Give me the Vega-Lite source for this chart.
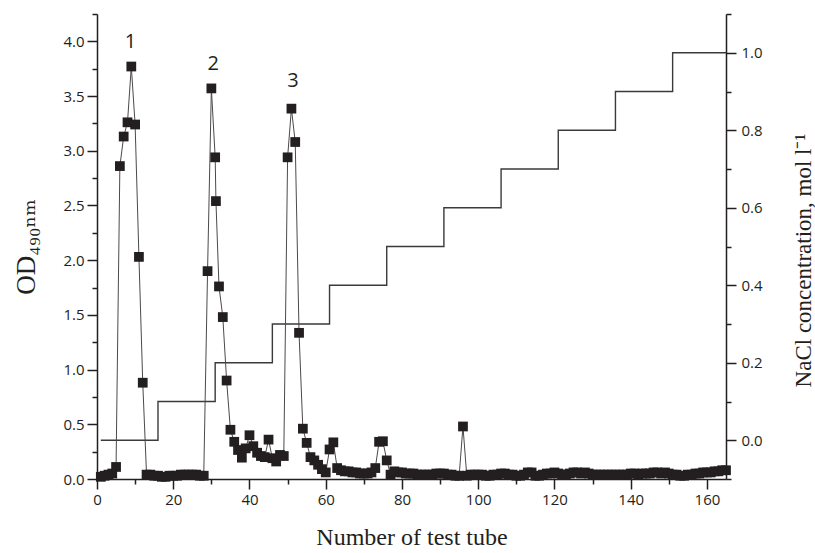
{
  "$schema": "https://vega.github.io/schema/vega-lite/v6.json",
  "width": 629,
  "height": 465,
  "autosize": {"type": "none"},
  "padding": {"left": 97, "top": 14, "right": 89, "bottom": 74},
  "background": "white",
  "config": {
    "view": {"stroke": null},
    "axis": {
      "grid": false,
      "domainColor": "#231f20",
      "domainWidth": 1.5,
      "tickColor": "#231f20",
      "tickWidth": 1.5,
      "tickSize": 10,
      "labelColor": "#231f20",
      "labelFont": "Open Sans",
      "labelFontSize": 15,
      "labelOverlap": false,
      "labelFlush": false,
      "labelBound": false,
      "titleFont": "Liberation Serif",
      "titleFontSize": 24,
      "titleFontWeight": "normal",
      "titleColor": "#231f20"
    }
  },
  "datasets": {
    "nacl": [
      {"tube": 1, "nacl": 0.0}, {"tube": 16, "nacl": 0.1}, {"tube": 31, "nacl": 0.2},
      {"tube": 46, "nacl": 0.3}, {"tube": 61, "nacl": 0.4}, {"tube": 76, "nacl": 0.5},
      {"tube": 91, "nacl": 0.6}, {"tube": 106, "nacl": 0.7}, {"tube": 121, "nacl": 0.8},
      {"tube": 136, "nacl": 0.9}, {"tube": 151, "nacl": 1.0}, {"tube": 165, "nacl": 1.0}
    ],
    "peaks": [
      {"tube": 8.8, "od": 3.99, "label": "1"},
      {"tube": 30.5, "od": 3.79, "label": "2"},
      {"tube": 51.4, "od": 3.64, "label": "3"}
    ],
    "od": [
      {"tube": 1, "od": 0.02}, {"tube": 2, "od": 0.03}, {"tube": 3, "od": 0.04}, {"tube": 4, "od": 0.05},
      {"tube": 5, "od": 0.11}, {"tube": 6, "od": 2.86}, {"tube": 7, "od": 3.13}, {"tube": 8, "od": 3.26},
      {"tube": 9, "od": 3.77}, {"tube": 10, "od": 3.24}, {"tube": 11, "od": 2.03}, {"tube": 12, "od": 0.88},
      {"tube": 13, "od": 0.04}, {"tube": 14, "od": 0.04}, {"tube": 15, "od": 0.03}, {"tube": 16, "od": 0.03},
      {"tube": 17, "od": 0.02}, {"tube": 18, "od": 0.02}, {"tube": 19, "od": 0.03}, {"tube": 20, "od": 0.03},
      {"tube": 21, "od": 0.03}, {"tube": 22, "od": 0.04}, {"tube": 23, "od": 0.04}, {"tube": 24, "od": 0.04},
      {"tube": 25, "od": 0.04}, {"tube": 26, "od": 0.04}, {"tube": 27, "od": 0.03}, {"tube": 28, "od": 0.03},
      {"tube": 29, "od": 1.9}, {"tube": 30, "od": 3.57}, {"tube": 31, "od": 2.94}, {"tube": 31.2, "od": 2.54},
      {"tube": 32, "od": 1.76}, {"tube": 33, "od": 1.48}, {"tube": 34, "od": 0.9}, {"tube": 35, "od": 0.45},
      {"tube": 36, "od": 0.34}, {"tube": 37, "od": 0.265}, {"tube": 38, "od": 0.195}, {"tube": 39, "od": 0.28},
      {"tube": 40, "od": 0.4}, {"tube": 41, "od": 0.3}, {"tube": 42, "od": 0.24}, {"tube": 43, "od": 0.21},
      {"tube": 44, "od": 0.2}, {"tube": 45, "od": 0.36}, {"tube": 46, "od": 0.19}, {"tube": 47, "od": 0.16},
      {"tube": 48, "od": 0.22}, {"tube": 49, "od": 0.21}, {"tube": 50, "od": 2.94}, {"tube": 51, "od": 3.385},
      {"tube": 52, "od": 3.08}, {"tube": 53, "od": 1.336}, {"tube": 54, "od": 0.46}, {"tube": 55, "od": 0.33},
      {"tube": 56, "od": 0.2}, {"tube": 57, "od": 0.17}, {"tube": 58, "od": 0.13}, {"tube": 59, "od": 0.09},
      {"tube": 60, "od": 0.06}, {"tube": 61, "od": 0.27}, {"tube": 62, "od": 0.335}, {"tube": 63, "od": 0.1},
      {"tube": 64, "od": 0.08}, {"tube": 65, "od": 0.07}, {"tube": 66, "od": 0.07}, {"tube": 67, "od": 0.06},
      {"tube": 68, "od": 0.06}, {"tube": 69, "od": 0.05}, {"tube": 70, "od": 0.05}, {"tube": 71, "od": 0.05},
      {"tube": 72, "od": 0.06}, {"tube": 73, "od": 0.1}, {"tube": 74, "od": 0.34}, {"tube": 75, "od": 0.345},
      {"tube": 76, "od": 0.17}, {"tube": 77, "od": 0.04}, {"tube": 78, "od": 0.07}, {"tube": 79, "od": 0.06},
      {"tube": 80, "od": 0.06}, {"tube": 81, "od": 0.05}, {"tube": 82, "od": 0.05}, {"tube": 83, "od": 0.05},
      {"tube": 84, "od": 0.04}, {"tube": 85, "od": 0.04}, {"tube": 86, "od": 0.04}, {"tube": 87, "od": 0.04},
      {"tube": 88, "od": 0.04}, {"tube": 89, "od": 0.05}, {"tube": 90, "od": 0.05}, {"tube": 91, "od": 0.05},
      {"tube": 92, "od": 0.04}, {"tube": 93, "od": 0.04}, {"tube": 94, "od": 0.03}, {"tube": 95, "od": 0.03},
      {"tube": 96, "od": 0.48}, {"tube": 97, "od": 0.03}, {"tube": 98, "od": 0.04}, {"tube": 99, "od": 0.04},
      {"tube": 100, "od": 0.04}, {"tube": 101, "od": 0.04}, {"tube": 102, "od": 0.03}, {"tube": 103, "od": 0.03},
      {"tube": 104, "od": 0.04}, {"tube": 105, "od": 0.04}, {"tube": 106, "od": 0.05}, {"tube": 107, "od": 0.05},
      {"tube": 108, "od": 0.04}, {"tube": 109, "od": 0.04}, {"tube": 110, "od": 0.03}, {"tube": 111, "od": 0.03},
      {"tube": 112, "od": 0.04}, {"tube": 113, "od": 0.06}, {"tube": 114, "od": 0.06}, {"tube": 115, "od": 0.03},
      {"tube": 116, "od": 0.03}, {"tube": 117, "od": 0.04}, {"tube": 118, "od": 0.05}, {"tube": 119, "od": 0.05},
      {"tube": 120, "od": 0.06}, {"tube": 121, "od": 0.05}, {"tube": 122, "od": 0.04}, {"tube": 123, "od": 0.04},
      {"tube": 124, "od": 0.05}, {"tube": 125, "od": 0.06}, {"tube": 126, "od": 0.06}, {"tube": 127, "od": 0.05},
      {"tube": 128, "od": 0.06}, {"tube": 129, "od": 0.05}, {"tube": 130, "od": 0.04}, {"tube": 131, "od": 0.04},
      {"tube": 132, "od": 0.04}, {"tube": 133, "od": 0.04}, {"tube": 134, "od": 0.04}, {"tube": 135, "od": 0.04},
      {"tube": 136, "od": 0.04}, {"tube": 137, "od": 0.04}, {"tube": 138, "od": 0.04}, {"tube": 139, "od": 0.04},
      {"tube": 140, "od": 0.05}, {"tube": 141, "od": 0.05}, {"tube": 142, "od": 0.04}, {"tube": 143, "od": 0.05},
      {"tube": 144, "od": 0.05}, {"tube": 145, "od": 0.05}, {"tube": 146, "od": 0.06}, {"tube": 147, "od": 0.06},
      {"tube": 148, "od": 0.05}, {"tube": 149, "od": 0.06}, {"tube": 150, "od": 0.05}, {"tube": 151, "od": 0.04},
      {"tube": 152, "od": 0.04}, {"tube": 153, "od": 0.03}, {"tube": 154, "od": 0.03}, {"tube": 155, "od": 0.04},
      {"tube": 156, "od": 0.04}, {"tube": 157, "od": 0.05}, {"tube": 158, "od": 0.05}, {"tube": 159, "od": 0.06},
      {"tube": 160, "od": 0.06}, {"tube": 161, "od": 0.06}, {"tube": 162, "od": 0.07}, {"tube": 163, "od": 0.07},
      {"tube": 164, "od": 0.08}, {"tube": 165, "od": 0.08}
    ]
  },
  "layer": [
    {
      "data": {"name": "nacl"},
      "mark": {"type": "line", "interpolate": "step-after", "stroke": "#3a3a3a", "strokeWidth": 1.4},
      "encoding": {
        "x": {
          "field": "tube", "type": "quantitative",
          "scale": {"domain": [0, 165], "nice": false, "zero": false},
          "axis": {
            "orient": "bottom",
            "values": [0, 10, 20, 30, 40, 50, 60, 70, 80, 90, 100, 110, 120, 130, 140, 150, 160],
            "tickDash": {"condition": {"test": "datum.value % 20 === 0", "value": []}, "value": [5, 20]},
            "labelExpr": "datum.value % 20 === 0 ? datum.label : ''",
            "labelPadding": 3,
            "title": "Number of test tube",
            "titlePadding": 18
          }
        },
        "y": {
          "field": "nacl", "type": "quantitative",
          "scale": {"domain": [-0.1, 1.1], "nice": false, "zero": false},
          "axis": {
            "orient": "right",
            "values": [-0.1, 0, 0.1, 0.2, 0.3, 0.4, 0.5, 0.6, 0.7, 0.8, 0.9, 1.0, 1.1],
            "format": ".1f",
            "tickDash": {"condition": {"test": "abs(round(datum.value*10)) % 2 === 0", "value": []}, "value": [5, 20]},
            "labelExpr": "abs(round(datum.value*10)) % 2 === 0 ? datum.label : ''",
            "labelPadding": 5,
            "title": "NaCl concentration, mol l⁻¹",
            "titleFontSize": 23,
            "titleAngle": -90,
            "titleBaseline": "top",
            "titleY": 246,
            "titlePadding": 30
          }
        }
      }
    },
    {
      "encoding": {
        "x": {
          "field": "tube", "type": "quantitative",
          "scale": {"domain": [0, 165], "nice": false, "zero": false},
          "axis": {
            "orient": "bottom",
            "values": [0, 10, 20, 30, 40, 50, 60, 70, 80, 90, 100, 110, 120, 130, 140, 150, 160],
            "tickDash": {"condition": {"test": "datum.value % 20 === 0", "value": []}, "value": [5, 20]},
            "labelExpr": "datum.value % 20 === 0 ? datum.label : ''",
            "labelPadding": 3,
            "title": "Number of test tube",
            "titlePadding": 18
          }
        },
        "y": {
          "field": "od", "type": "quantitative",
          "scale": {"domain": [0, 4.25], "nice": false, "zero": false},
          "axis": {
            "orient": "left",
            "values": [0, 0.25, 0.5, 0.75, 1, 1.25, 1.5, 1.75, 2, 2.25, 2.5, 2.75, 3, 3.25, 3.5, 3.75, 4, 4.25],
            "format": ".1f",
            "tickDash": {"condition": {"test": "datum.value % 0.5 === 0", "value": []}, "value": [5, 20]},
            "labelExpr": "datum.value % 0.5 === 0 ? datum.label : ''",
            "labelPadding": 3,
            "title": "OD₄₉₀ₙₘ",
            "titleFont": "Liberation Serif, DejaVu Serif",
            "titleFontSize": 27,
            "titlePadding": 22
          }
        }
      },
      "layer": [
        {
          "data": {"name": "od"},
          "mark": {"type": "line", "stroke": "#4a4a4a", "strokeWidth": 1}
        },
        {
          "data": {"name": "od"},
          "mark": {"type": "point", "shape": "square", "filled": true, "size": 95, "color": "#231f20", "opacity": 1}
        },
        {
          "data": {"name": "peaks"},
          "mark": {"type": "text", "font": "Open Sans", "fontSize": 20, "color": "#231f20", "baseline": "middle", "align": "center"},
          "encoding": {"text": {"field": "label", "type": "nominal"}}
        }
      ]
    }
  ],
  "resolve": {"scale": {"y": "independent"}, "axis": {"y": "independent"}}
}
